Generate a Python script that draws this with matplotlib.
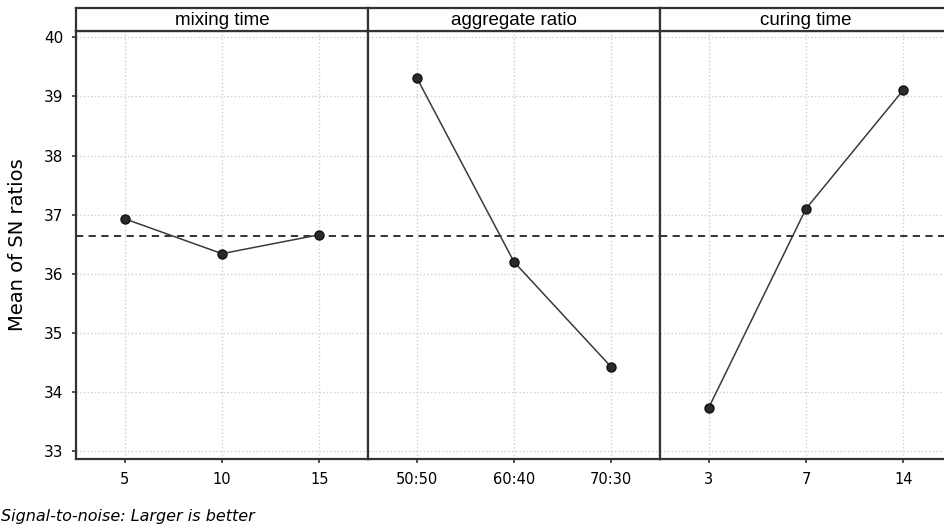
import matplotlib
matplotlib.use("Agg")
import matplotlib.pyplot as plt
import numpy as np

factors = ["mixing time", "aggregate ratio", "curing time"]
levels = [["5", "10", "15"], ["50:50", "60:40", "70:30"], ["3", "7", "14"]]
sn_means = [[36.93, 36.34, 36.66], [39.32, 36.20, 34.42], [33.73, 37.10, 39.11]]
yticks = [33, 34, 35, 36, 37, 38, 39, 40]

grand_mean = np.mean([v for row in sn_means for v in row])

W, H = 944, 531
fig = plt.figure(figsize=(W / 100, H / 100), dpi=100)

frame_col = "#333333"
line_col = "#3a3a3a"

panel_left = [76, 368, 660]
panel_w = 292
ax_top, ax_bot, strip_top = 31, 459, 8

for i, name in enumerate(factors):
    x0 = panel_left[i] / W
    ax = fig.add_axes([x0, 1 - ax_bot / H, panel_w / W, (ax_bot - ax_top) / H])
    xs = np.arange(len(levels[i]))
    ax.axhline(grand_mean, color="#222222", linestyle=(0, (4, 3)), linewidth=1.3, zorder=2)
    ax.plot(xs, sn_means[i], color=line_col, linewidth=1.1, marker="o",
            markersize=6.5, markerfacecolor="#2b2b2b", markeredgecolor="#111111", zorder=3)
    ax.set_xlim(-0.5, 2.5)
    ax.set_ylim(32.865, 40.108)
    ax.set_xticks(xs)
    ax.set_xticklabels(levels[i], fontsize=10.5)
    ax.set_yticks(yticks)
    ax.grid(True, color="#d0d0d0", linestyle=":", linewidth=1.0)
    ax.set_axisbelow(True)
    for s in ax.spines.values():
        s.set_color(frame_col)
        s.set_linewidth(1.6)
    ax.tick_params(axis="both", direction="out", length=3, width=1.2, color=frame_col, pad=6)
    if i == 0:
        ax.set_yticklabels([str(t) for t in yticks], fontsize=11)
        ax.set_ylabel("Mean of SN ratios", fontsize=14, labelpad=12)
    else:
        ax.tick_params(axis="y", left=False, labelleft=False)

    # strip header
    sax = fig.add_axes([x0, 1 - ax_top / H, panel_w / W, (ax_top - strip_top) / H])
    sax.set_xticks([])
    sax.set_yticks([])
    for s in sax.spines.values():
        s.set_color(frame_col)
        s.set_linewidth(1.6)
    sax.text(0.5, 0.45, name, ha="center", va="center", fontsize=13.5,
             family="Liberation Sans", transform=sax.transAxes)

fig.text(1 / W, 1 - 516 / H, "Signal-to-noise: Larger is better", fontsize=11.5,
         style="italic", ha="left", va="center")

fig.savefig("out.png", dpi=100)
